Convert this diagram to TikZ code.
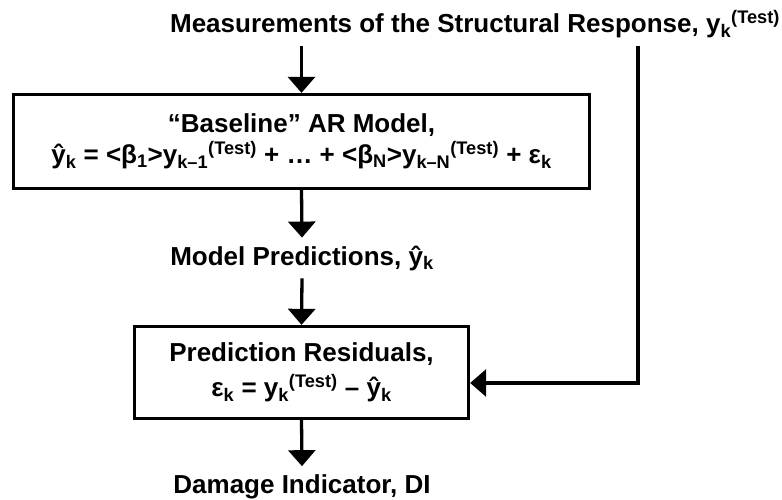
\documentclass[tikz,border=0pt]{standalone}
\usepackage{fontspec}
\setmainfont{Liberation Sans}
\usetikzlibrary{arrows.meta}
\newcommand\sbs[1]{\textsubscript{#1}}
\newcommand\sps[1]{\textsuperscript{#1}}
\begin{document}
\begin{tikzpicture}[x=1pt,y=-1pt,
  txt/.style={font=\bfseries\fontsize{26}{34}\selectfont, inner sep=0pt, outer sep=8pt, align=center},
  boxn/.style={draw, line width=3.3pt, inner sep=0pt, font=\bfseries\fontsize{26}{31}\selectfont, align=center},
  arr/.style={line width=3.3pt, -{Triangle[width=27pt,length=16pt]}}
]
\useasboundingbox (0,0) rectangle (782,500);
\node[txt, anchor=base] (title) at (475,33) {Measurements of the Structural Response, y\sbs{k}\sps{(Test)}};
\node[boxn, minimum width=576pt, minimum height=94pt] (b1) at (301.5,141.5)
  {“Baseline” AR Model,\\ ŷ\sbs{k} = <β\sbs{1}>y\sbs{k–1}\sps{(Test)} + … + <β\sbs{N}>y\sbs{k–N}\sps{(Test)} + ε\sbs{k}};
\node[txt] (mp) at (302,258) {Model Predictions, ŷ\sbs{k}};
\node[boxn, minimum width=334pt, minimum height=92pt, font=\bfseries\fontsize{26}{35}\selectfont] (b2) at (301.5,372.5)
  {Prediction Residuals,\\ ε\sbs{k} = y\sbs{k}\sps{(Test)} – ŷ\sbs{k}};
\node[txt, anchor=base] (di) at (302,493) {Damage Indicator, DI};
\coordinate (rtop) at (638,46);
\draw[arr] (title.south -| b1.north) -- (b1.north);
\draw[arr] (b1.south) -- (mp.north);
\draw[arr] (mp.south) -- (b2.north);
\draw[arr] (b2.south) -- (di.north);
\draw[arr] (rtop) |- ([yshift=-10.5pt]b2.east);
\end{tikzpicture}
\end{document}
